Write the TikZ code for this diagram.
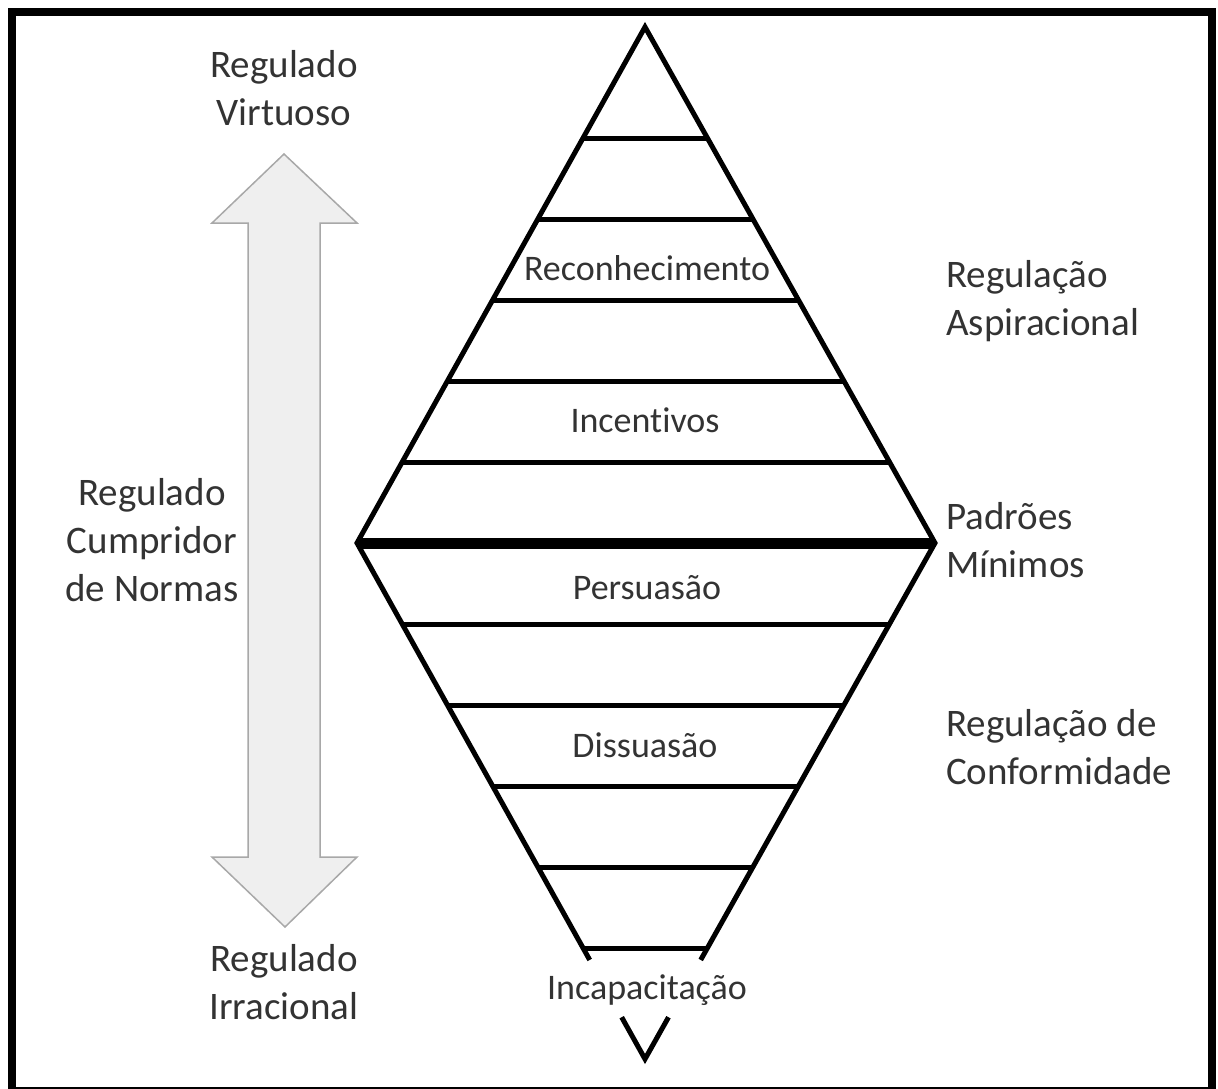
\documentclass[tikz,border=0pt]{standalone}
\usepackage{fontspec}
\setmainfont{Carlito}[RawFeature={-liga}]
\usetikzlibrary{calc}
\definecolor{txt}{HTML}{333333}
\definecolor{arrfill}{HTML}{EFEFEF}
\definecolor{arrline}{HTML}{A8A8A8}
\begin{document}
\begin{tikzpicture}[x=1pt,y=-1pt,
  sidetxt/.style={text=txt,font=\fontsize{39}{48}\selectfont,align=center,inner sep=0pt},
  rtxt/.style={sidetxt,align=left,anchor=west},
  intxt/.style={text=txt,font=\fontsize{36}{44}\selectfont,inner sep=0pt},
  rung/.style={line width=5pt},
  midrung/.style={line width=11pt},
  side/.style={line width=5pt,line join=miter}]
\useasboundingbox (0,0) rectangle (1218,1088);
% frame
\draw[line width=8pt] (12,12) rectangle (1212,1091);
% double arrow
\draw[fill=arrfill,draw=arrline,line width=1.5pt,line join=miter]
  (284,154) -- (357,223) -- (320,223) -- (320,857) -- (357,857) -- (285,927)
  -- (212,857) -- (248,857) -- (248,223) -- (212,223) -- cycle;
% diamond
\coordinate (T) at (645,27);
\coordinate (L) at (357,543);
\coordinate (R) at (935,543);
\coordinate (B) at (645,1059);
\begin{scope}
  \clip (T) -- (L) -- (B) -- (R) -- cycle;
  \foreach \k in {1,...,5} {
    \draw[rung] (300,{543-81*\k}) -- (1000,{543-81*\k});
    \draw[rung] (300,{543+81*\k}) -- (1000,{543+81*\k});
  }
  \draw[midrung] (300,543) -- (1000,543);
\end{scope}
\draw[side] ($(L)!0.808!(B)$) -- (L) -- (T) -- (R) -- ($(R)!0.808!(B)$);
\draw[side] ($(L)!0.919!(B)$) -- (B) -- ($(R)!0.919!(B)$);
% inner labels
\node[intxt] (rec) at (647,268) {Reconhecimento};
\node[intxt] (inc) at (645,420) {Incentivos};
\node[intxt] (per) at (647,588) {Persuasão};
\node[intxt] (dis) at (645,745) {Dissuasão};
\node[intxt] (incap) at (647,990) {Incapacitação};
% left labels
\node[sidetxt] (virt) at (284,88) {Regulado\\Virtuoso};
\node[sidetxt] (cump) at (152,540) {Regulado\\Cumpridor\\de Normas};
\node[sidetxt] (irr) at (284,982) {Regulado\\Irracional};
% right labels
\node[rtxt] (asp) at (946,301) {Regulação\\Aspiracional};
\node[rtxt] (pad) at (946,540) {Padrões\\Mínimos};
\node[rtxt] (conf) at (946,747) {Regulação de\\Conformidade};
\end{tikzpicture}
\end{document}
